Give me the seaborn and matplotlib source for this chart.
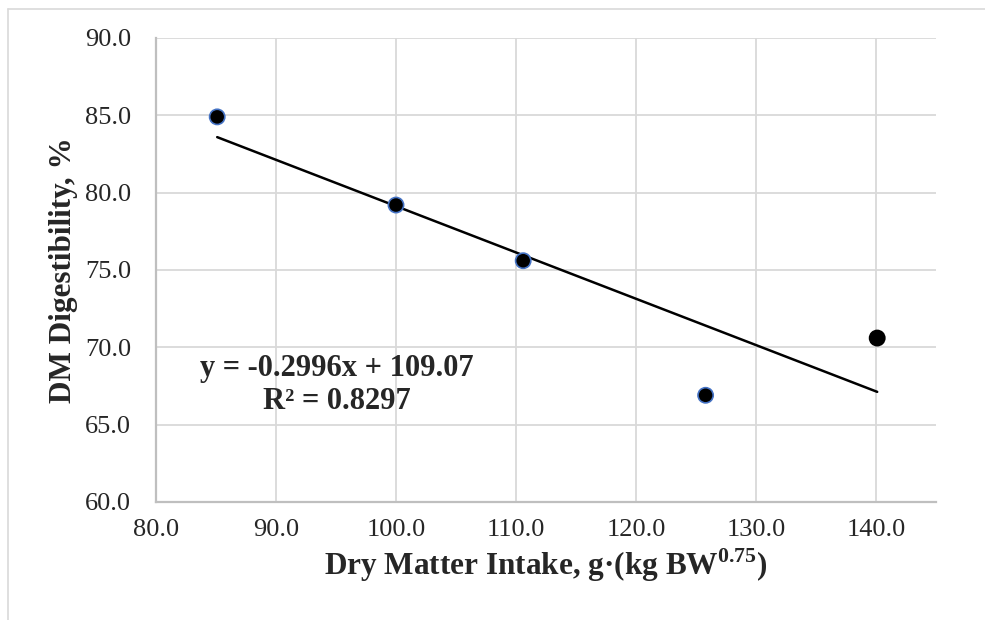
import matplotlib
matplotlib.use("Agg")
import matplotlib.pyplot as plt
import numpy as np
import pandas as pd
import seaborn as sns
from matplotlib.lines import Line2D

# values
dm_intake = [85.1, 100.0, 110.6, 125.8, 140.1]
dm_digest = [84.9, 79.2, 75.6, 66.9, 70.6]
x_ticks = [80, 90, 100, 110, 120, 130, 140]
y_ticks = [60, 65, 70, 75, 80, 85, 90]
eq_text = "y = -0.2996x + 109.07\nR² = 0.8297"

df = pd.DataFrame({"intake": dm_intake, "digest": dm_digest})

sns.set_style("white")
plt.rcParams["font.family"] = ["Liberation Serif", "DejaVu Serif"]

fig = plt.figure(figsize=(9.85, 6.2), dpi=100)
ax = fig.add_axes([156 / 985, 118 / 620, 780 / 985, 464 / 620])

# chart area border (top and left visible)
fig.add_artist(Line2D([8 / 985, 1], [1 - 9 / 620, 1 - 9 / 620], color="#D9D9D9", lw=1.2))
fig.add_artist(Line2D([8 / 985, 8 / 985], [0, 1 - 9 / 620], color="#D9D9D9", lw=1.2))

ax.grid(True, color="#D9D9D9", lw=1.3)
ax.set_axisbelow(True)

sns.regplot(data=df, x="intake", y="digest", scatter=False, ci=None, truncate=True,
            line_kws={"color": "black", "lw": 1.8, "zorder": 2}, ax=ax)

edge_cols = ["#4472C4", "#4472C4", "#4472C4", "#4472C4", "black"]
sns.scatterplot(data=df, x="intake", y="digest", color="black", s=120,
                edgecolor=edge_cols, linewidth=1.2, zorder=3, ax=ax)

ax.set_xlim(80, 145)
ax.set_ylim(60, 90)
ax.set_xticks(x_ticks)
ax.set_yticks(y_ticks)
ax.set_xticklabels([f"{v:.1f}" for v in x_ticks], fontsize=19)
ax.set_yticklabels([f"{v:.1f}" for v in y_ticks], fontsize=19)
ax.tick_params(axis="x", length=0, pad=12)
ax.tick_params(axis="y", length=0, pad=18)

for s in ["top", "right"]:
    ax.spines[s].set_visible(False)
for s in ["left", "bottom"]:
    ax.spines[s].set_color("#BFBFBF")
    ax.spines[s].set_linewidth(1.6)

ax.set_xlabel("Dry Matter Intake, g·(kg BW$^{\\mathregular{0.75}}$)", fontsize=22.5,
              fontweight="bold", labelpad=4)
ax.set_ylabel("DM Digestibility, %", fontsize=22.5, fontweight="bold", labelpad=5)

ax.text(95.1, 67.55, eq_text, fontsize=22, fontweight="bold", ha="center", va="center",
        linespacing=1.2)

fig.savefig("out.png", dpi=100)
